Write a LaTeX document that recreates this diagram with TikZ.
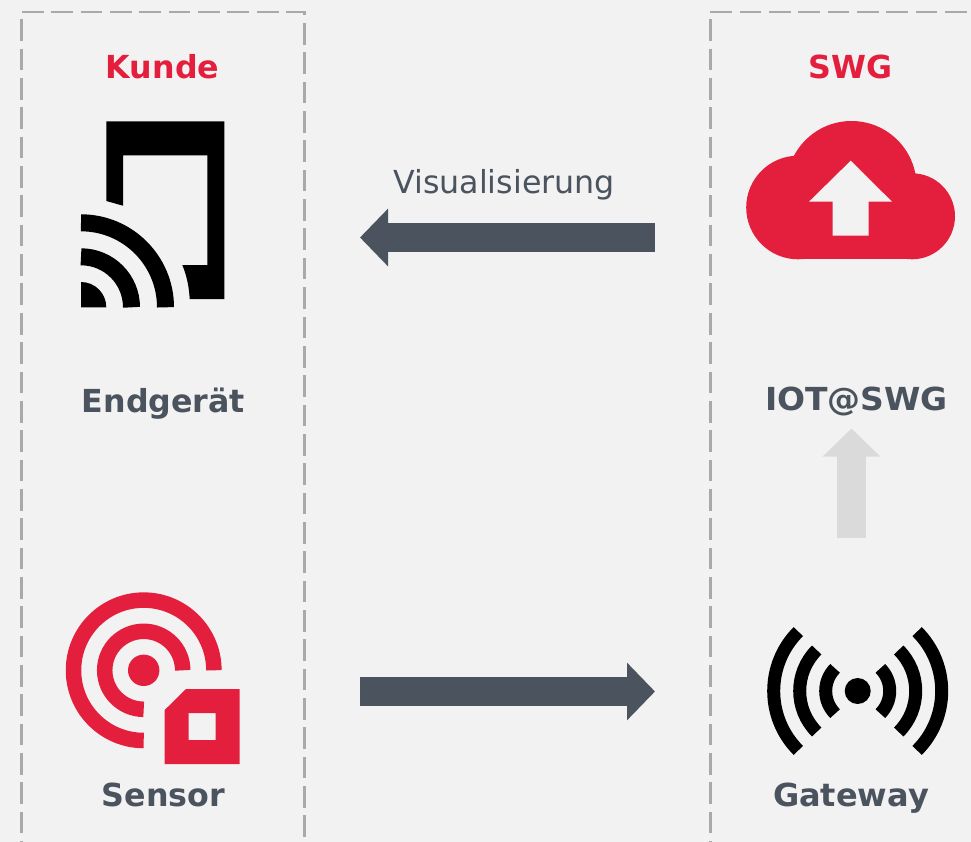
\documentclass[tikz,border=0pt]{standalone}
\usepackage{fontspec}
\usepackage{graphicx}
\setmainfont{DejaVu Sans}
\usetikzlibrary{arrows.meta}
\definecolor{bgc}{HTML}{F2F2F2}
\definecolor{redc}{HTML}{E41F3D}
\definecolor{slatec}{HTML}{4A535E}
\definecolor{greyc}{HTML}{A9A9A9}
\definecolor{palec}{HTML}{DADADA}
\tikzset{
  boxline/.style={draw=greyc,line width=2.4pt,dash pattern=on 21.7pt off 7.65pt},
  head/.style={font=\bfseries\fontsize{31.7}{32}\selectfont,text=redc,anchor=base,inner sep=0pt},
  lab/.style={font=\bfseries\fontsize{31.7}{32}\selectfont,text=slatec,anchor=base,inner sep=0pt},
  flow/.style={line width=28.4pt,-{Triangle[length=28pt,width=56pt]}},
}
\begin{document}
\begin{tikzpicture}[x=1pt,y=1pt,yscale=-1]
\useasboundingbox (0,0) rectangle (971,842);
\fill[bgc] (0,0) rectangle (971,842);
% dashed frames
\draw[boxline] (22,12) -- (304.5,12) -- (304.5,850);
\draw[boxline] (21.5,19.3) -- (21.5,850);
\draw[boxline] (710.3,19.3) -- (710.3,850);
\draw[boxline] (710.3,12) -- (980,12);
% headings and labels
\node[head] (kunde) at (162.5,78.5) {Kunde};
\node[head] (swg) at (850.5,78.5) {SWG};
\node[anchor=base,inner sep=0pt,text=slatec,font=\fontsize{31.7}{32}\selectfont] (visu) at (504,193.5) {Visualisierung};
\node[lab] (endg) at (163.5,412.5) {Endgerät};
\node[lab] (iot) at (856.5,410.5) {\scalebox{1.04}[1]{IOT@SWG}};
\node[lab] (sensor) at (163.5,806.5) {Sensor};
\node[lab] (gateway) at (851,806.5) {\scalebox{1.01}[1]{Gateway}};
% tablet icon
\fill[black] (106.3,201) -- (106.3,121.3) -- (224.3,121.3) -- (224.3,299) -- (189.7,299)
  .. controls (189,286) and (186.5,275) .. (182.3,265) -- (207.3,265) -- (207.3,155.3) -- (123,155.3) -- (123,205.7) -- cycle;
\draw[black,line width=17pt] (81,222.8) arc[start angle=-90,end angle=0,radius=84.5];
\draw[black,line width=17pt] (81,256.8) arc[start angle=-90,end angle=0,radius=50.5];
\fill[black] (81,307.3) -- (81,282) arc[start angle=-90,end angle=0,radius=25.3] -- cycle;
% sensor icon
\fill[redc] (143.7,670.3) circle[radius=15.7];
\draw[redc,line width=15.5pt] (213.9,670.3) arc[start angle=0,end angle=-270,radius=70.2];
\draw[redc,line width=15.5pt] (182.7,670.3) arc[start angle=0,end angle=-270,radius=39];
\fill[redc,even odd rule] (186,689) -- (239.7,689) -- (239.7,764) -- (164.7,764) -- (164.7,710) -- cycle
  (188.7,713) rectangle (215.7,740);
% cloud icon
\fill[redc] (851.5,186) circle[radius=65];
\fill[redc] (798,207.5) circle[radius=51.8];
\fill[redc] (912,216.3) circle[radius=43];
\fill[redc] (798,259.3) rectangle (912,190);
\fill[bgc] (850.7,160.7) -- (892,201.7) -- (868.7,201.7) -- (868.7,235.7) -- (832.7,235.7) -- (832.7,201.7) -- (809,201.7) -- cycle;
% gateway icon
\fill[black] (857.7,691) circle[radius=13];
\foreach \r in {84,58,32}{
  \draw[black,line width=13pt] (857.7,691) ++(135:\r) arc[start angle=135,end angle=225,radius=\r];
  \draw[black,line width=13pt] (857.7,691) ++(-45:\r) arc[start angle=-45,end angle=45,radius=\r];
}
% flows
\coordinate (visuFrom) at (655,237.5);
\coordinate (visuTo) at (360,237.5);
\coordinate (dataFrom) at (360,691.5);
\coordinate (dataTo) at (655,691.5);
\coordinate (upFrom) at (851.5,538);
\coordinate (upTo) at (851.5,428.5);
\draw[flow,slatec] (visuFrom) -- (visuTo);
\draw[flow,slatec] (dataFrom) -- (dataTo);
\draw[flow,palec] (upFrom) -- (upTo);
\end{tikzpicture}
\end{document}
